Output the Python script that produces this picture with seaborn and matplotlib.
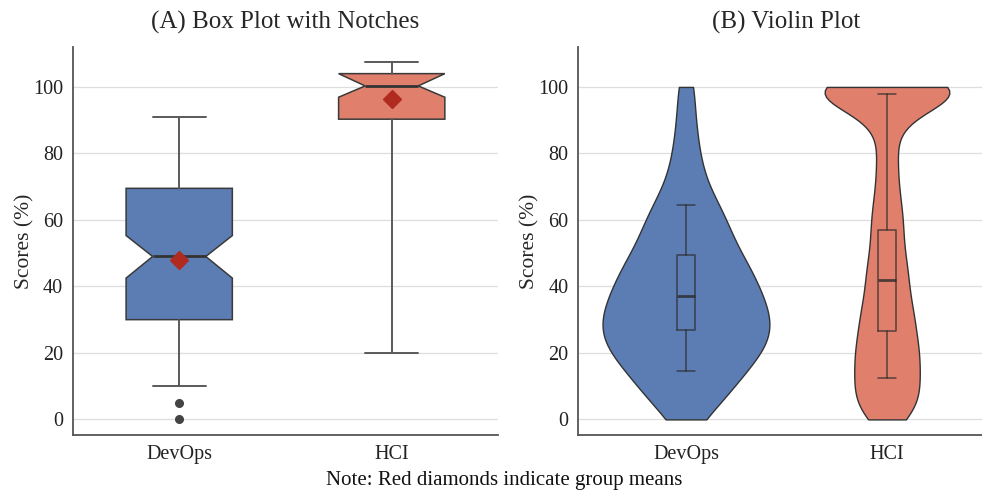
import matplotlib
matplotlib.use("Agg")
import pandas as pd
import seaborn as sns
from matplotlib import pyplot as plt

groups = ["DevOps", "HCI"]
colors = ["#5B7DB3", "#E07F6C"]

# (A) box plot summary per group
box_q1 = [30.0, 90.3]
box_med = [49.0, 100.3]
box_q3 = [69.5, 104.0]
box_lo = [10.0, 20.0]
box_hi = [91.0, 107.5]
notch_lo = [42.5, 96.9]
notch_hi = [55.3, 104.0]
group_means = [47.8, 96.4]
outliers = [[5.0, 0.0], []]

# (B) scores behind the violins
devops_scores = [0, 4, 6, 8, 10, 12, 13, 15, 16, 18, 19, 20, 21, 22, 23, 24, 25, 26,
                 27, 28, 29, 30, 31, 32, 33, 34, 35, 36, 37, 39, 40, 41, 42, 43, 45,
                 46, 47, 49, 50, 52, 54, 56, 58, 60, 62, 64, 67, 71, 76, 82, 90, 100]
hci_scores = [0, 2, 4, 6, 8, 10, 12, 14, 16, 18, 20, 22, 24, 26, 29, 31, 33, 36, 39,
              42, 45, 48, 52, 56, 60, 64, 69, 75, 81, 88,
              92, 94, 96, 97, 98, 99, 99, 100, 100, 100, 100, 100, 100, 100]
violin_widths = [0.83, 0.62]
violin_bw = [0.3, 0.15]

# small box drawn inside each violin
inner_q1 = [27.0, 26.5]
inner_med = [37.0, 42.0]
inner_q3 = [49.3, 57.0]
inner_lo = [14.5, 12.5]
inner_hi = [64.5, 98.0]

sns.set_theme(style="whitegrid")
plt.rcParams["font.family"] = ["Liberation Serif", "DejaVu Serif"]

fig = plt.figure(figsize=(9.82, 4.93), dpi=100)
ax1 = fig.add_axes([0.0743, 0.1176, 0.4328, 0.787])
ax2 = fig.add_axes([0.5886, 0.1176, 0.4246, 0.787])

# --- panel A
stats = []
for i, g in enumerate(groups):
    stats.append(dict(label=g, q1=box_q1[i], med=box_med[i], q3=box_q3[i],
                      whislo=box_lo[i], whishi=box_hi[i], cilo=notch_lo[i],
                      cihi=notch_hi[i], mean=group_means[i], fliers=outliers[i]))
bp = ax1.bxp(stats, positions=[0, 1], widths=0.5, shownotches=True, showmeans=True,
             patch_artist=True,
             boxprops=dict(edgecolor="#3a3a3a", linewidth=1.1),
             whiskerprops=dict(color="#5a5a5a", linewidth=1.4),
             capprops=dict(color="#5a5a5a", linewidth=1.4),
             medianprops=dict(color="#333333", linewidth=2.0),
             meanprops=dict(marker="D", markerfacecolor="#B02A1F",
                            markeredgecolor="#B02A1F", markersize=9),
             flierprops=dict(marker="o", markerfacecolor="#444444",
                             markeredgecolor="#444444", markersize=5.5))
for patch, c in zip(bp["boxes"], colors):
    patch.set_facecolor(c)
ax1.set_xlim(-0.5, 1.5)
ax1.set_title("(A) Box Plot with Notches", fontsize=18, pad=13)

# --- panel B
for i, (g, scores) in enumerate(zip(groups, [devops_scores, hci_scores])):
    df = pd.DataFrame({"group": g, "score": scores})
    sns.violinplot(data=df, x="group", y="score", order=groups, color=colors[i],
                   saturation=1, width=violin_widths[i], cut=0, bw_method=violin_bw[i],
                   inner=None, linewidth=1.0, linecolor="#333333", ax=ax2)

inner_stats = []
for i, g in enumerate(groups):
    inner_stats.append(dict(label=g, q1=inner_q1[i], med=inner_med[i], q3=inner_q3[i],
                            whislo=inner_lo[i], whishi=inner_hi[i], fliers=[]))
line_kw = dict(color="#2a2a2a", linewidth=1.1, alpha=0.75)
ax2.bxp(inner_stats, positions=[0, 1], widths=0.085, capwidths=0.085,
        showfliers=False, boxprops=line_kw, whiskerprops=line_kw, capprops=line_kw,
        medianprops=dict(color="#2a2a2a", linewidth=2.0, alpha=0.8), zorder=4)
ax2.set_xlim(-0.537, 1.537)
ax2.set_title("(B) Violin Plot", fontsize=18, pad=13)

for ax in (ax1, ax2):
    ax.set_ylim(-4.7, 112)
    ax.set_yticks([0, 20, 40, 60, 80, 100])
    ax.set_xticks([0, 1])
    ax.set_xticklabels(groups)
    ax.set_xlabel("")
    ax.set_ylabel("Scores (%)", fontsize=15.5, labelpad=-1)
    ax.xaxis.grid(False)
    ax.yaxis.grid(True, color="#dedede", linewidth=0.9)
    ax.set_axisbelow(True)
    for side in ("top", "right"):
        ax.spines[side].set_visible(False)
    for side in ("left", "bottom"):
        ax.spines[side].set_color("#555555")
        ax.spines[side].set_linewidth(1.3)
    ax.tick_params(axis="both", length=4, width=1, color="#555555",
                   labelsize=14.5, labelcolor="#222222", pad=3)

fig.text(0.513, 0.026, "Note: Red diamonds indicate group means", ha="center",
         va="center", fontsize=15, color="#111111")

fig.savefig("out.png", dpi=100)
